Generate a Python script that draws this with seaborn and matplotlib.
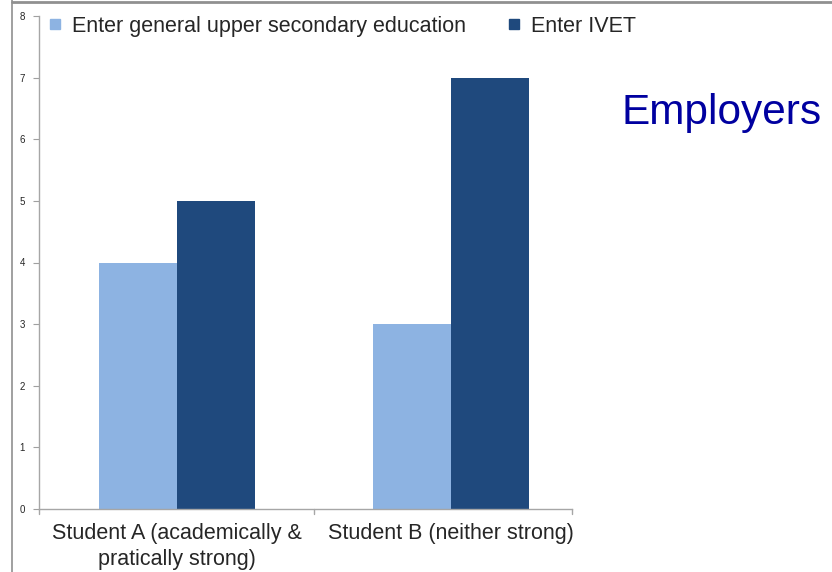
import matplotlib
matplotlib.use("Agg")
import matplotlib.pyplot as plt
from matplotlib.lines import Line2D
import seaborn as sns
import pandas as pd

# Survey answers from employers
students = ["Student A (academically &\npratically strong)", "Student B (neither strong)"]
series = ["Enter general upper secondary education", "Enter IVET"]
general_upper_secondary = [4, 3]
ivet = [5, 7]
y_ticks = [0, 1, 2, 3, 4, 5, 6, 7, 8]

colors = ["#8DB3E2", "#1F497D"]

df = pd.DataFrame({
    "student": students * 2,
    "choice": [series[0]] * 2 + [series[1]] * 2,
    "count": general_upper_secondary + ivet,
})

sns.set_style("white")
plt.rcParams["font.family"] = ["Liberation Sans", "DejaVu Sans"]

fig = plt.figure(figsize=(8.32, 5.72), dpi=100)
ax = fig.add_axes([39 / 832, 1 - 509 / 572, (572 - 39) / 832, (509 - 16) / 572])

sns.barplot(data=df, x="student", y="count", hue="choice", palette=colors,
            width=0.57, saturation=1, ax=ax, legend=False, edgecolor="none")

ax.set_xlim(-0.504, 1.441)
ax.set_ylim(0, 8)
ax.set_yticks(y_ticks)
ax.set_yticklabels([str(t) for t in y_ticks], fontsize=7)
ax.set_xlabel("")
ax.set_ylabel("")
ax.tick_params(axis="x", labelsize=15.5, length=0, pad=10)
for lbl in ax.get_xticklabels():
    lbl.set_linespacing(1.3)
ax.tick_params(axis="y", left=True, length=4, width=0.8, color="#A0A0A0", pad=6)

for side in ["top", "right"]:
    ax.spines[side].set_visible(False)
for side in ["left", "bottom"]:
    ax.spines[side].set_color("#A6A6A6")
    ax.spines[side].set_linewidth(1.0)

# category separators on the x axis
for xv in [-0.504, 0.5, 1.441]:
    ax.plot([xv, xv], [0, -0.08], color="#A6A6A6", lw=1.0, clip_on=False,
            transform=ax.transData)

handles = [Line2D([0], [0], marker="s", linestyle="none", markersize=7.5,
                  markerfacecolor=c, markeredgecolor=c) for c in colors]
fig.legend(handles, series, loc="upper left", bbox_to_anchor=(38 / 832, 1 - 5 / 572),
           ncol=2, frameon=False, fontsize=15.5, handlelength=0.6, handletextpad=0.5,
           columnspacing=1.9, borderpad=0)

fig.text(722 / 832, 1 - 113 / 572, "Employers", color="#0000A0", fontsize=30.5,
         ha="center", va="center")

# frame lines along the left and top edges
fig.add_artist(Line2D([12 / 832, 12 / 832], [0, 1], color="#909090", lw=1.2))
fig.add_artist(Line2D([12 / 832, 1], [1 - 2 / 572, 1 - 2 / 572], color="#909090", lw=2.0))

fig.savefig("out.png", dpi=100)
